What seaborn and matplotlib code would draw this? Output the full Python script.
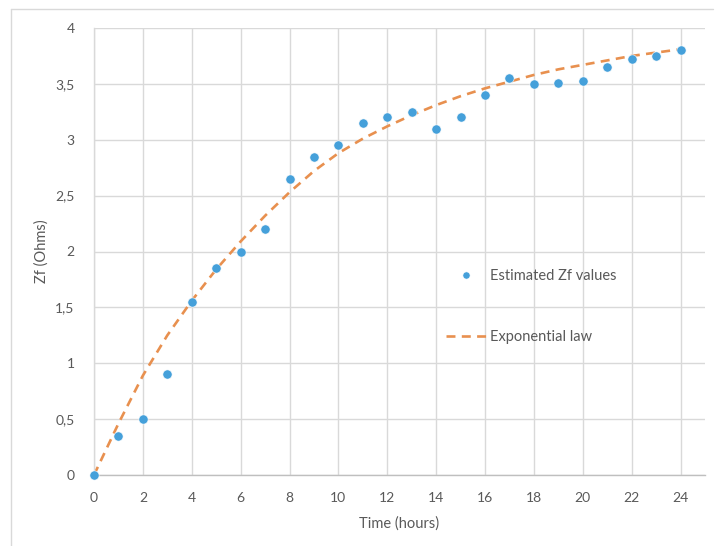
import numpy as np
import pandas as pd
from matplotlib import pyplot as plt
from matplotlib.lines import Line2D
import seaborn as sns

# measured Zf values, one per hour
hours = list(range(25))
zf_values = [0, 0.35, 0.5, 0.9, 1.55, 1.85, 2.0, 2.2, 2.65, 2.85, 2.95, 3.15, 3.2,
             3.25, 3.1, 3.2, 3.4, 3.55, 3.5, 3.51, 3.53, 3.65, 3.72, 3.75, 3.8]
# exponential law curve read at each hour
exp_law = [0, 0.46, 0.89, 1.25, 1.56, 1.84, 2.09, 2.32, 2.53, 2.72, 2.88, 3.01, 3.12,
           3.22, 3.31, 3.39, 3.46, 3.52, 3.58, 3.63, 3.67, 3.71, 3.75, 3.78, 3.81]

x_ticks = list(range(0, 25, 2))
y_ticks = [0, 0.5, 1, 1.5, 2, 2.5, 3, 3.5, 4]
y_tick_labels = ["0", "0,5", "1", "1,5", "2", "2,5", "3", "3,5", "4"]

df = pd.DataFrame({"hours": hours, "zf": zf_values, "law": exp_law})

sns.set_style("whitegrid")
plt.rcParams['font.family'] = ['Lato', 'DejaVu Sans']

blue = "#45A0DA"
orange = "#E8904F"
grey_text = "#595959"

fig = plt.figure(figsize=(7.15, 5.46), dpi=100)
ax = fig.add_axes([94 / 715, 1 - 475 / 546, (705 - 94) / 715, (475 - 28) / 546])

sns.lineplot(data=df, x="hours", y="law", ax=ax, color=orange, linewidth=1.9,
             linestyle=(0, (3.4, 2.4)), zorder=2)
sns.scatterplot(data=df, x="hours", y="zf", ax=ax, color=blue, s=44,
                edgecolor="white", linewidth=0.4, zorder=3)
for coll in ax.collections:
    coll.set_clip_on(False)

ax.set_xlim(0, 25)
ax.set_ylim(0, 4)
ax.set_xticks(x_ticks)
ax.set_xticklabels([str(t) for t in x_ticks])
ax.set_yticks(y_ticks)
ax.set_yticklabels(y_tick_labels)
ax.tick_params(axis="both", length=0, labelsize=10, labelcolor=grey_text)
ax.tick_params(axis="x", pad=12)
ax.tick_params(axis="y", pad=14)

ax.grid(True, color="#d9d9d9", linewidth=1.0)
for side in ["top", "right"]:
    ax.spines[side].set_visible(False)
ax.spines["left"].set_color("#d9d9d9")
ax.spines["left"].set_linewidth(1.0)
ax.spines["bottom"].set_color("#bfbfbf")
ax.spines["bottom"].set_linewidth(1.0)

ax.set_xlabel("Time (hours)", fontsize=10.5, color=grey_text, labelpad=9)
ax.set_ylabel("Zf (Ohms)", fontsize=10.5, color=grey_text, labelpad=5)

handles = [
    Line2D([], [], linestyle="none", marker="o", markersize=5.2, color=blue,
           markeredgecolor="white", markeredgewidth=0.4),
    Line2D([], [], color=orange, linewidth=1.9, linestyle=(0, (3.4, 2.4))),
]
leg = ax.legend(handles, ["Estimated Zf values", "Exponential law"],
                loc="center left", bbox_to_anchor=(446 / 715, 1 - 306.5 / 546),
                bbox_transform=fig.transFigure, frameon=False, fontsize=10.5,
                handlelength=2.8, handletextpad=0.2, labelspacing=3.2,
                borderpad=0, borderaxespad=0)
for t in leg.get_texts():
    t.set_color(grey_text)

# light chart frame
fig.add_artist(Line2D([11 / 715, 11 / 715], [0, 1 - 9 / 546], transform=fig.transFigure,
                      color="#d9d9d9", linewidth=1.0))
fig.add_artist(Line2D([11 / 715, 713 / 715], [1 - 9 / 546, 1 - 9 / 546],
                      transform=fig.transFigure, color="#d9d9d9", linewidth=1.0))

fig.savefig("out.png", dpi=100)
